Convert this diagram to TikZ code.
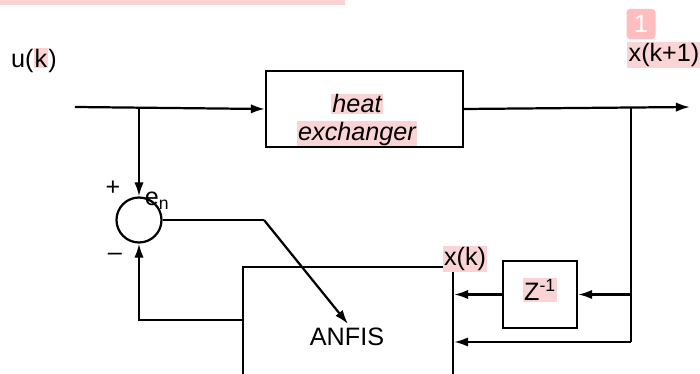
\documentclass[tikz,border=0pt]{standalone}
\usepackage{fontspec}
\setmainfont{Liberation Sans}
\usetikzlibrary{arrows.meta}

\begin{document}
\begin{tikzpicture}[x=0.03cm,y=-0.03cm,
  every node/.style={font=\fontsize{21.5}{25}\selectfont},
  blk/.style={draw,line width=1.9pt,inner sep=0pt},
  wire/.style={line width=1.9pt},
  sig/.style={wire,-{Latex[length=12pt,width=8pt]}},
  hl/.style={fill=hlPink,inner sep=1pt}]
\definecolor{hlPink}{HTML}{FAD4D4}
\definecolor{badgePink}{HTML}{FFBDBD}
\clip (0,0) rectangle (700,374);
\fill[hlPink] (0,0) rectangle (345,5);
% highlights behind labels
\node[hl] (hxa) at (357,104) {\itshape heat};
\node[hl] (hxb) at (357,134) {\itshape exchanger};
% blocks
\node[blk,minimum width=5.91cm,minimum height=2.28cm] (hx) at (364.5,109) {};
\node[blk,minimum width=6.3cm,minimum height=4.2cm] (anfis) at (348,337) {};
\node (anfislab) at (347,337) {ANFIS};
\node[blk,minimum width=2.22cm,minimum height=2.01cm] (zb) at (540,294.5) {};
\node[hl] (zlab) at (540,290) {Z\textsuperscript{-1}};
\node[draw,circle,line width=1.9pt,minimum size=1.35cm,inner sep=0pt] (sum) at (139,220) {};
% labels
\node (ulab) at (34,60) {u(\setlength{\fboxsep}{1pt}\colorbox{hlPink}{k})};
\node[hl] (xnext) at (664,55) {x(k+1)};
\node[hl] (xnow) at (465,259) {x(k)};
\node (plus) at (113,188) {+};
\node (minus) at (115,257) {--};
\node (en) at (157,201) {e\textsubscript{n}};
\node[fill=badgePink,rounded corners=3pt,text=white,minimum width=0.87cm,minimum height=0.9cm,inner sep=0pt] (badge) at (641,24) {1};
% connectors
\coordinate (in) at (75,107);
\coordinate (tap) at (139,107);
\coordinate (out) at (690,107);
\coordinate (split) at (631,107);
\coordinate (bend) at (264,220);
\coordinate (tip) at (348,324);
\coordinate (fb) at (200,320);
\coordinate (low) at (600,342);
\draw[sig] (in) -- (hx.west);
\draw[sig] (hx.east) -- (out);
\draw[sig] (tap) -- (sum.north);
\draw[wire] (sum.east) -- (bend);
\draw[sig] (bend) -- (tip);
\draw[sig] (anfis.west |- fb) -| (sum.south);
\draw[wire] (split) -- (split |- low);
\draw[sig] (split |- zb.east) -- (zb.east);
\draw[sig] (zb.west) -- (anfis.east |- zb.west);
\draw[sig] (split |- low) -- (anfis.east |- low);
\end{tikzpicture}
\end{document}
